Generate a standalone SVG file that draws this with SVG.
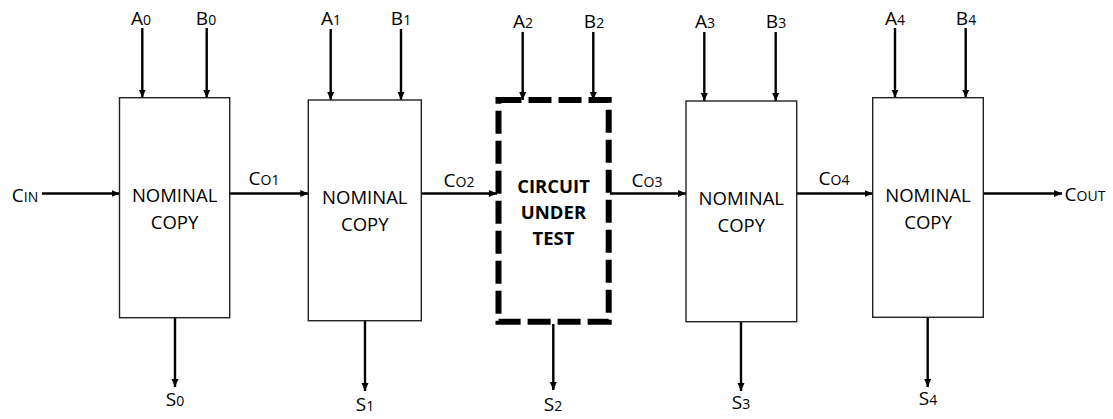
<svg xmlns="http://www.w3.org/2000/svg" width="1113" height="419" viewBox="0 0 1113 419">
<defs>
<marker id="ah" markerUnits="userSpaceOnUse" markerWidth="9" markerHeight="8" refX="8" refY="3.5" orient="auto">
<path d="M0,0 L8,3.5 L0,7 z" fill="#000"/>
</marker>
<style>
.box{fill:#fff;stroke:#222;stroke-width:1.4}
.cut{fill:#fff;stroke:#000;stroke-width:6;stroke-dasharray:23 7}
.w{stroke:#000;stroke-width:2.4;fill:none;marker-end:url(#ah)}
.t{font-family:"Open Sans","Liberation Sans",sans-serif;font-size:18.5px;fill:#000;text-anchor:middle}
.b{font-weight:bold}
.l{font-family:"Open Sans","Liberation Sans",sans-serif;font-size:19px;fill:#000;text-anchor:middle}
.s{font-size:14px}
</style>
</defs>
<rect width="1113" height="419" fill="#fff"/>
<g id="connectors">
<line class="w" x1="42" y1="193.5" x2="119.5" y2="193.5"/>
<line class="w" x1="229.7" y1="193.5" x2="308.3" y2="193.5"/>
<line class="w" x1="421.3" y1="193.5" x2="497" y2="193.5"/>
<line class="w" x1="610" y1="193.5" x2="686" y2="193.5"/>
<line class="w" x1="796.7" y1="193.5" x2="872.7" y2="193.5"/>
<line class="w" x1="983.3" y1="193.5" x2="1062" y2="193.5"/>
<line class="w" x1="142.3" y1="28" x2="142.3" y2="97.7"/>
<line class="w" x1="206.7" y1="28" x2="206.7" y2="97.7"/>
<line class="w" x1="330.7" y1="29" x2="330.7" y2="100"/>
<line class="w" x1="401" y1="29" x2="401" y2="100"/>
<line class="w" x1="522.7" y1="32" x2="522.7" y2="100"/>
<line class="w" x1="593.3" y1="32" x2="593.3" y2="100"/>
<line class="w" x1="704.3" y1="32" x2="704.3" y2="101"/>
<line class="w" x1="775.7" y1="32" x2="775.7" y2="101"/>
<line class="w" x1="895" y1="28" x2="895" y2="97.7"/>
<line class="w" x1="965.7" y1="28" x2="965.7" y2="97.7"/>
<line class="w" x1="175" y1="317.7" x2="175" y2="387"/>
<line class="w" x1="365" y1="320.7" x2="365" y2="391"/>
<line class="w" x1="553.3" y1="324" x2="553.3" y2="390"/>
<line class="w" x1="741" y1="321.7" x2="741" y2="391"/>
<line class="w" x1="927.7" y1="317.3" x2="927.7" y2="387"/>
</g>
<g id="node0">
<rect class="box" x="119.5" y="97.7" width="110.2" height="220"/>
<text class="t" x="174.6" y="202">NOMINAL</text>
<text class="t" x="174.6" y="228.5">COPY</text>
</g>
<g id="node1">
<rect class="box" x="308.3" y="100" width="113" height="220.7"/>
<text class="t" x="364.8" y="204">NOMINAL</text>
<text class="t" x="364.8" y="231">COPY</text>
</g>
<g id="node2">
<path class="cut" d="M498.5,100 H608.7 V321.7 H498.5 Z"/>
<text class="t b" x="553.5" y="193">CIRCUIT</text>
<text class="t b" x="553.5" y="219">UNDER</text>
<text class="t b" x="553.5" y="245">TEST</text>
</g>
<g id="node3">
<rect class="box" x="686" y="101" width="110.7" height="220.7"/>
<text class="t" x="741.3" y="205">NOMINAL</text>
<text class="t" x="741.3" y="232">COPY</text>
</g>
<g id="node4">
<rect class="box" x="872.7" y="97.7" width="110.6" height="219.6"/>
<text class="t" x="928" y="202">NOMINAL</text>
<text class="t" x="928" y="228.5">COPY</text>
</g>
<g id="labels">
<text class="l" x="141" y="25">A<tspan class="s">0</tspan></text>
<text class="l" x="206" y="25">B<tspan class="s">0</tspan></text>
<text class="l" x="331" y="25">A<tspan class="s">1</tspan></text>
<text class="l" x="401" y="25">B<tspan class="s">1</tspan></text>
<text class="l" x="523" y="28">A<tspan class="s">2</tspan></text>
<text class="l" x="594" y="28">B<tspan class="s">2</tspan></text>
<text class="l" x="705" y="28">A<tspan class="s">3</tspan></text>
<text class="l" x="776" y="28">B<tspan class="s">3</tspan></text>
<text class="l" x="895" y="25">A<tspan class="s">4</tspan></text>
<text class="l" x="966" y="25">B<tspan class="s">4</tspan></text>
<text class="l" x="175" y="406">S<tspan class="s">0</tspan></text>
<text class="l" x="365" y="411">S<tspan class="s">1</tspan></text>
<text class="l" x="553" y="411">S<tspan class="s">2</tspan></text>
<text class="l" x="741" y="409">S<tspan class="s">3</tspan></text>
<text class="l" x="928" y="405">S<tspan class="s">4</tspan></text>
<text class="l" x="25" y="202">C<tspan class="s">IN</tspan></text>
<text class="l" x="264" y="185">C<tspan class="s">O1</tspan></text>
<text class="l" x="459" y="187">C<tspan class="s">O2</tspan></text>
<text class="l" x="647" y="187">C<tspan class="s">O3</tspan></text>
<text class="l" x="834" y="185">C<tspan class="s">O4</tspan></text>
<text class="l" x="1085" y="201">C<tspan class="s">OUT</tspan></text>
</g>
</svg>
